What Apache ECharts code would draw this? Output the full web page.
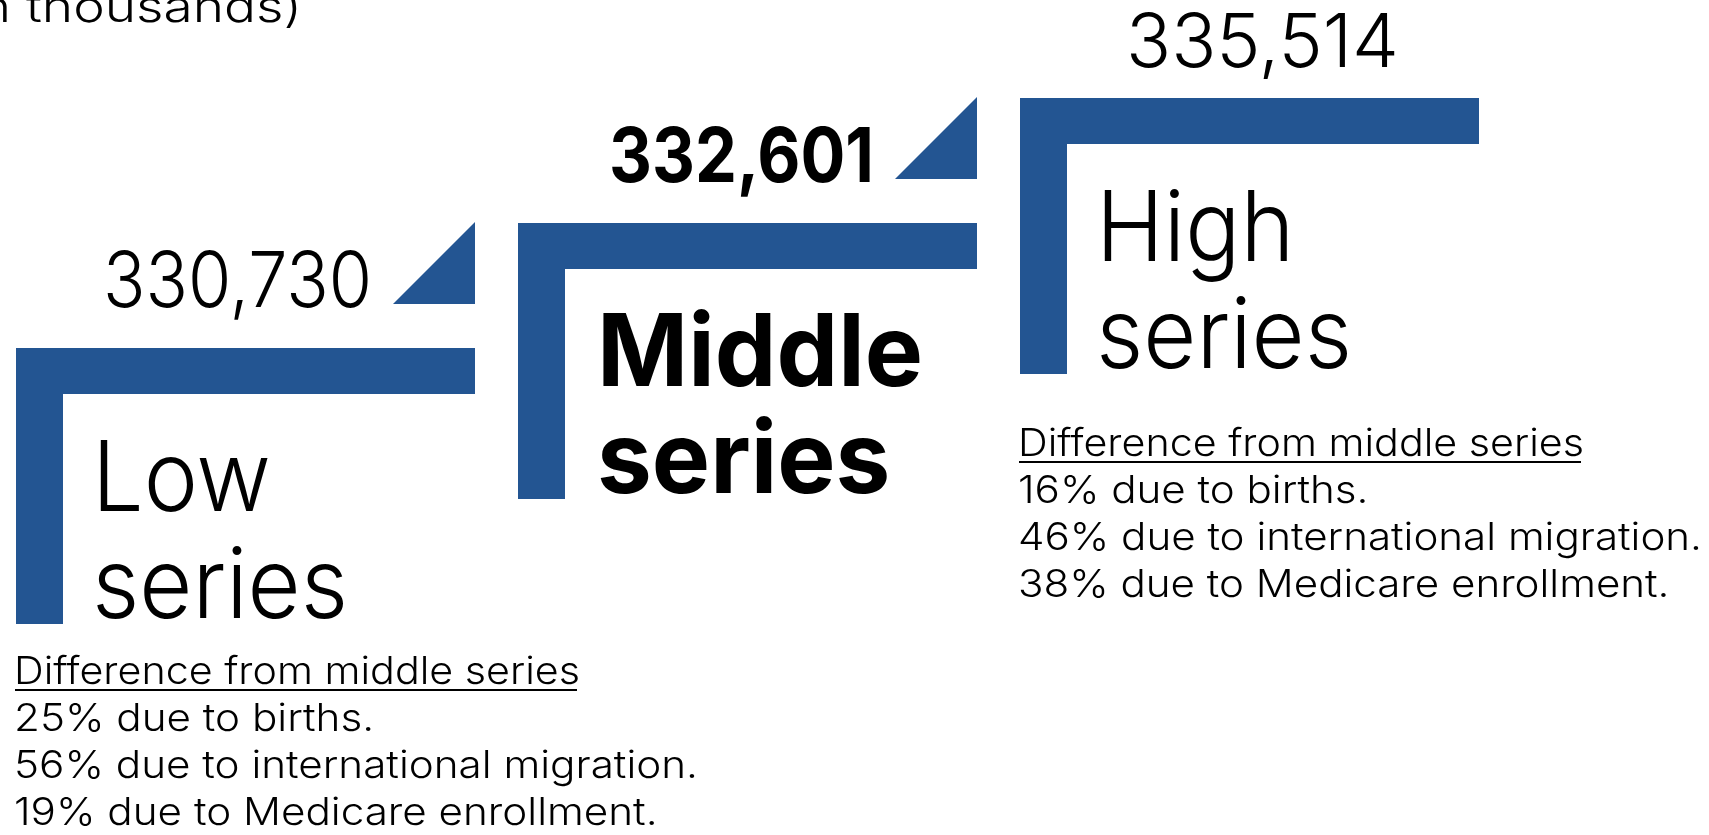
<!DOCTYPE html>
<html>
<head>
<meta charset="utf-8">
<script src="https://cdn.jsdelivr.net/npm/echarts@6/dist/echarts.min.js"></script>
<style>
  html, body { margin: 0; padding: 0; background: #ffffff; }
  #chart { width: 1709px; height: 835px; }
</style>
</head>
<body>
<div id="chart"></div>
<script>
// ---- data ----
const categories = ['Low', 'Middle', 'High'];
const seriesValues = [330730, 332601, 335514];
const birthsShare = [25, null, 16];
const migrationShare = [56, null, 46];
const medicareShare = [19, null, 38];
const noteHeader = 'Difference from middle series';
const unitNote = '(in thousands)';

// ---- style ----
const BLUE = '#235592';
const FAMILY = 'Inter';

const ctx = document.createElement('canvas').getContext('2d');
function fontStr(weight, size) { return weight + ' ' + size + 'px ' + FAMILY; }
function measure(str, weight, size) {
  ctx.font = fontStr(weight, size);
  ctx.textBaseline = 'alphabetic';
  const w = ctx.measureText(str).width;
  const a1 = ctx.measureText('H').actualBoundingBoxAscent;
  ctx.textBaseline = 'middle';
  const a2 = ctx.measureText('H').actualBoundingBoxAscent;
  return { w: w, cap: a1, mid: a1 - a2 };
}
// text placed by baseline, sized by cap height, stretched to a reference width
function textEl(str, opt) {
  const weight = opt.weight || 'normal';
  const base = measure('H', weight, 100);
  const size = Math.round(opt.cap / (base.cap / 100) * 10) / 10;
  const ref = measure(opt.refWord || str, weight, size);
  const m = measure(str, weight, size);
  const sx = opt.refWidth ? opt.refWidth / ref.w : 1;
  return {
    type: 'text',
    x: opt.x,
    y: opt.baseline - m.mid,
    scaleX: sx,
    scaleY: 1,
    silent: true,
    style: {
      text: str,
      font: fontStr(weight, size),
      fill: '#000000',
      textAlign: opt.align || 'left',
      textVerticalAlign: 'middle',
      verticalAlign: 'middle'
    }
  };
}

function fmt(v) { return v.toLocaleString('en-US'); }

const lastIdx = categories.length - 1;

function renderItem(params, api) {
  const i = api.value(0);
  const c = api.coord([i, i]);
  const sz = api.size([1, 1]);
  const x0 = c[0] - sz[0] / 2;
  const y0 = c[1] - sz[1] / 2;
  const isMid = categories[i] === 'Middle';
  const weight = isMid ? 'bold' : '300';
  const children = [];

  // L-shaped step
  children.push({ type: 'rect', shape: { x: x0, y: y0, width: 459, height: 46 }, style: { fill: BLUE } });
  children.push({ type: 'rect', shape: { x: x0, y: y0, width: 47, height: 276 }, style: { fill: BLUE } });

  // step-up triangle towards the next series
  if (i < lastIdx) {
    children.push({
      type: 'polygon',
      shape: { points: [[x0 + 377, y0 - 44], [x0 + 459, y0 - 44], [x0 + 459, y0 - 126]] },
      style: { fill: BLUE }
    });
    children.push(textEl(fmt(api.value(2)), {
      x: x0 + 356, baseline: y0 - 41, cap: isMid ? 55 : 56, weight: weight,
      align: 'right', refWidth: isMid ? 265 : 269
    }));
  } else {
    children.push(textEl(fmt(api.value(2)), {
      x: x0 + 106, baseline: y0 - 31, cap: 54, weight: weight, refWidth: 273
    }));
  }

  // series name
  const nameCap = isMid ? 73 : 71;
  const refW = isMid ? { word: 'Middle', w: 326 } : { word: 'series', w: 256 };
  const nx0 = isMid ? x0 + 79 : x0 + 76;
  children.push(textEl(categories[i], {
    x: nx0, baseline: y0 + 163, cap: nameCap, weight: weight,
    refWord: refW.word, refWidth: refW.w
  }));
  children.push(textEl('series', {
    x: nx0, baseline: y0 + 270, cap: nameCap, weight: weight,
    refWord: refW.word, refWidth: refW.w
  }));

  // notes block
  if (birthsShare[i] != null) {
    const nx = x0 - 2;
    const hb = y0 + (i === 0 ? 336 : 358);
    const lines = [
      noteHeader,
      birthsShare[i] + '% due to births.',
      migrationShare[i] + '% due to international migration.',
      medicareShare[i] + '% due to Medicare enrollment.'
    ];
    lines.forEach(function (s, k) {
      children.push(textEl(s, k === 0
        ? { x: nx, baseline: hb, cap: 28, weight: '300', refWidth: 566 }
        : { x: nx, baseline: hb + k * 47, cap: 28, weight: '300', refWord: lines[2], refWidth: 684 }));
    });
    children.push({
      type: 'line',
      shape: { x1: nx + 1, y1: hb + 6, x2: nx + 563, y2: hb + 6 },
      style: { stroke: '#000000', lineWidth: 2 }
    });
  }
  return { type: 'group', children: children };
}

const chart = echarts.init(document.getElementById('chart'), null, { renderer: 'canvas' });

// unit note (partly outside the page at the left)
const unitEl = textEl(unitNote, {
  x: 302, baseline: 22, cap: 32, weight: '300', align: 'right', refWord: 'thousands)', refWidth: 276
});

chart.setOption({
  backgroundColor: '#ffffff',
  animation: false,
  tooltip: { show: false },
  grid: { left: 16, top: 98, width: 1506, height: 375 },
  xAxis: { type: 'category', data: categories, show: false },
  yAxis: { type: 'category', data: categories, show: false },
  graphic: [{
    type: 'text',
    x: unitEl.x, y: unitEl.y, scaleX: unitEl.scaleX,
    style: {
      text: unitNote, font: unitEl.style.font, fill: '#000000',
      textAlign: 'right', textVerticalAlign: 'middle', verticalAlign: 'middle'
    }
  }],
  series: [{
    type: 'custom',
    renderItem: renderItem,
    data: seriesValues.map(function (v, i) { return [i, i, v]; }),
    encode: { x: 0, y: 1 },
    clip: false
  }]
});
</script>
</body>
</html>
